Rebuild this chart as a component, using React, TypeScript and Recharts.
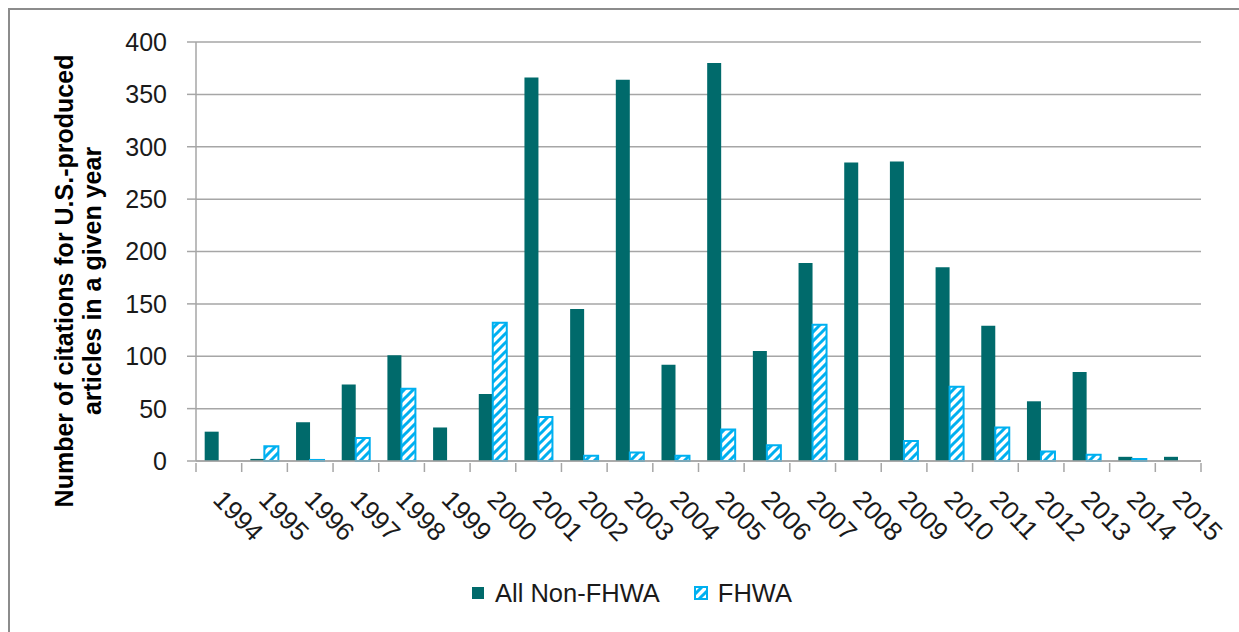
import { BarChart, Bar, XAxis, YAxis, CartesianGrid, Legend } from 'recharts';

const years = ['1994', '1995', '1996', '1997', '1998', '1999', '2000', '2001', '2002', '2003', '2004',
  '2005', '2006', '2007', '2008', '2009', '2010', '2011', '2012', '2013', '2014', '2015'];
const nonFhwa = [28, 2, 37, 73, 101, 32, 64, 366, 145, 364, 92, 380, 105, 189, 285, 286, 185, 129, 57, 85, 4, 4];
const fhwa = [0, 14, 1, 22, 69, 0, 132, 42, 5, 8, 5, 30, 15, 130, 0, 19, 71, 32, 9, 6, 2, 0];
const yTicks = [0, 50, 100, 150, 200, 250, 300, 350, 400];

const data = years.map((year, i) => ({ year, nonFhwa: nonFhwa[i], fhwa: fhwa[i] }));

const TEAL = '#006a6b';
const BLUE = '#00b0f0';
const GRID = '#a6a6a6';
const FONT = '"Liberation Sans", Arial, sans-serif';

const W = 1229;
const H = 622;
const M = { top: 32, right: 38, left: 0, bottom: 71 };
const Y_W = 186;
const BAND = (W - M.left - M.right - Y_W) / years.length;

function XTick(props: any) {
  const { x, y, payload, index } = props;
  const ax = y;
  return (
    <g>
      <line x1={x - BAND / 2} y1={ax} x2={x - BAND / 2} y2={ax + 9} stroke={GRID} strokeWidth={1.5} />
      {index === years.length - 1 && (
        <line x1={x + BAND / 2} y1={ax} x2={x + BAND / 2} y2={ax + 9} stroke={GRID} strokeWidth={1.5} />
      )}
      <text
        transform={`translate(${x - 7},${ax + 38}) rotate(46)`}
        textAnchor="start"
        fontSize={26}
        fontFamily={FONT}
        fill="#1a1a1a"
      >
        {payload.value}
      </text>
    </g>
  );
}

function YLabel() {
  return (
    <text
      transform="translate(0,271) rotate(-90)"
      textAnchor="middle"
      fontSize={25}
      fontWeight="bold"
      fontFamily={FONT}
      fill="#000"
    >
      <tspan x={0} y={63}>Number of citations for U.S.-produced</tspan>
      <tspan x={0} y={91}>articles in a given year</tspan>
    </text>
  );
}

function LegendBox() {
  return (
    <div style={{ display: 'flex', alignItems: 'center', height: 28, fontFamily: FONT, fontSize: 25.5, color: '#1a1a1a', whiteSpace: 'nowrap' }}>
      <svg width={12} height={12} style={{ marginRight: 11 }}>
        <rect x={0} y={0} width={12} height={12} fill={TEAL} />
      </svg>
      <span>All Non-FHWA</span>
      <svg width={14} height={14} style={{ marginLeft: 34, marginRight: 10 }}>
        <rect x={1} y={1} width={12} height={12} fill="url(#hatch)" stroke={BLUE} strokeWidth={2} />
      </svg>
      <span>FHWA</span>
    </div>
  );
}

export default function App() {
  return (
    <div
      style={{
        position: 'absolute',
        top: 8,
        left: 8,
        width: 1231,
        height: 624,
        boxSizing: 'border-box',
        borderTop: '2px solid #8c8c8c',
        borderLeft: '2px solid #8c8c8c',
        overflow: 'hidden',
        background: '#fff',
      }}
    >
      <BarChart width={W} height={H} data={data} margin={M} barCategoryGap="19%" barGap={0}>
        <defs>
          <pattern id="hatch" patternUnits="userSpaceOnUse" width={9} height={9}>
            <rect x={0} y={0} width={9} height={9} fill="#fff" />
            <path d="M-2,11 L11,-2 M-4,4 L4,-4 M5,13 L13,5" stroke={BLUE} strokeWidth={3} />
          </pattern>
        </defs>
        <CartesianGrid vertical={false} stroke={GRID} strokeWidth={1.5} />
        <XAxis
          dataKey="year"
          interval={0}
          height={100}
          tickLine={false}
          tickSize={0}
          axisLine={{ stroke: GRID, strokeWidth: 1.5 }}
          tick={<XTick />}
        />
        <YAxis
          width={Y_W}
          domain={[0, 400]}
          ticks={yTicks}
          interval={0}
          tickSize={9}
          tickMargin={20}
          tickLine={{ stroke: GRID, strokeWidth: 1.5 }}
          axisLine={{ stroke: GRID, strokeWidth: 1.5 }}
          tick={{ fontSize: 25, fontFamily: FONT, fill: '#1a1a1a' }}
          label={{ content: <YLabel /> }}
        />
        <Legend
          layout="horizontal"
          align="center"
          verticalAlign="middle"
          wrapperStyle={{ top: 569, left: 462, width: 400 }}
          content={<LegendBox />}
        />
        <Bar dataKey="nonFhwa" name="All Non-FHWA" fill={TEAL} isAnimationActive={false} />
        <Bar dataKey="fhwa" name="FHWA" fill="url(#hatch)" stroke={BLUE} strokeWidth={2} isAnimationActive={false} />
      </BarChart>
    </div>
  );
}
